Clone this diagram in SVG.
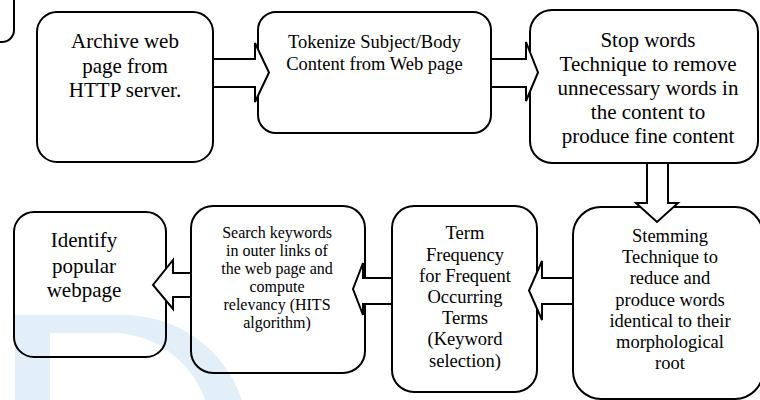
<svg xmlns="http://www.w3.org/2000/svg" width="760" height="400" viewBox="0 0 760 400" font-family="'Liberation Serif', 'Times New Roman', Times, serif">
<style>
.box{fill:none;stroke:#000;stroke-width:2}
.arr{fill:#fff;stroke:#000;stroke-width:2;stroke-linejoin:miter}
.lbl{font-family:'Liberation Serif','Times New Roman',Times,serif;fill:#000;text-anchor:middle}
.t21{font-size:21px}
.t18{font-size:18.5px}
.t16{font-size:16px}
</style>
<rect width="760" height="400" fill="#fff"/>
<g id="watermark">
<path d="M15,315 L125,315 A125,125 0 0 1 242,400 L205,400 A100,100 0 0 0 118,333 L50,333 L50,400 L15,400 Z" fill="#e3eff8"/>
</g>
<g id="node-partial"><rect class="box" x="-50" y="-20" width="64" height="62" rx="12"/></g>
<g id="node-archive" class="lbl t21">
<rect class="box" x="37" y="12" width="176" height="150" rx="20"/>
<text x="125" y="48">Archive web</text>
<text x="125" y="72.5">page from</text>
<text x="125" y="97">HTTP server.</text>
</g>
<g id="node-tokenize" class="lbl t18">
<rect class="box" x="258" y="12" width="233" height="121" rx="18"/>
<text x="374.5" y="48">Tokenize Subject/Body</text>
<text x="374.5" y="70">Content from Web page</text>
</g>
<g id="node-stopwords" class="lbl t21">
<rect class="box" x="530" y="10" width="228" height="153" rx="22"/>
<text x="648" y="47">Stop words</text>
<text x="648" y="71">Technique to remove</text>
<text x="648" y="95">unnecessary words in</text>
<text x="648" y="119">the content to</text>
<text x="648" y="143">produce fine content</text>
</g>
<g id="node-stemming" class="lbl t18">
<rect class="box" x="573" y="207" width="190" height="192" rx="28"/>
<text x="670" y="242">Stemming</text>
<text x="670" y="263">Technique to</text>
<text x="670" y="284">reduce and</text>
<text x="670" y="305.5">produce words</text>
<text x="670" y="326.5">identical to their</text>
<text x="670" y="348">morphological</text>
<text x="670" y="369">root</text>
</g>
<g id="node-termfreq" class="lbl t18">
<rect class="box" x="392" y="206" width="145" height="186" rx="22"/>
<text x="465" y="239">Term</text>
<text x="465" y="260.5">Frequency</text>
<text x="465" y="281.5">for Frequent</text>
<text x="465" y="302.5">Occurring</text>
<text x="465" y="324">Terms</text>
<text x="465" y="345">(Keyword</text>
<text x="465" y="366.5">selection)</text>
</g>
<g id="node-search" class="lbl t16">
<rect class="box" x="191" y="206" width="174" height="167" rx="22"/>
<text x="277" y="238">Search keywords</text>
<text x="277" y="256">in outer links of</text>
<text x="277" y="274">the web page and</text>
<text x="277" y="292">compute</text>
<text x="277" y="310">relevancy (HITS</text>
<text x="277" y="328">algorithm)</text>
</g>
<g id="node-identify" class="lbl t21">
<rect class="box" x="14" y="212" width="152" height="145" rx="20"/>
<text x="84" y="247">Identify</text>
<text x="84" y="272.5">popular</text>
<text x="84" y="297">webpage</text>
</g>
<g id="connectors">
<polygon class="arr" points="213,59 255,59 255,43 269,72.5 255,102 255,87 213,87"/>
<polygon class="arr" points="491,59 526,59 526,42 538,72.5 526,101 526,87 491,87"/>
<polygon class="arr" points="647,163 647,203 636,203 657,222 678,203 668,203 668,163"/>
<polygon class="arr" points="573,278 542,278 542,261 529,290.5 542,320 542,304 573,304"/>
<polygon class="arr" points="392,278 363,278 363,263 353,289 363,315 363,304 392,304"/>
<polygon class="arr" points="191,273 173,273 173,260 153,285 173,309 173,297 191,297"/>
</g>
</svg>
